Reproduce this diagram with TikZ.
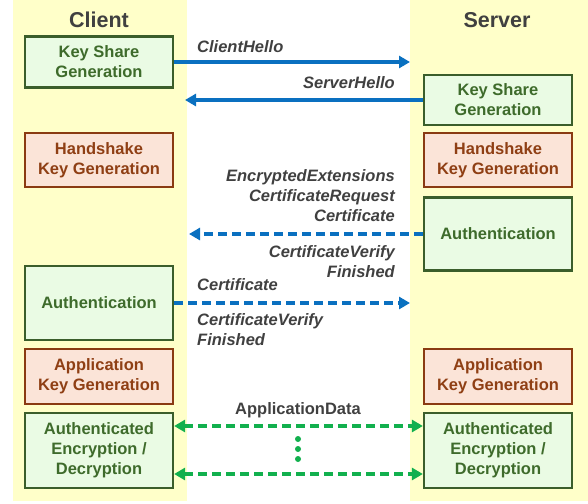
\documentclass[tikz,border=0pt]{standalone}
\usepackage{fontspec}
\setmainfont{Liberation Sans}
\usetikzlibrary{arrows.meta,positioning}

\definecolor{laneyellow}{HTML}{FFFFC9}
\definecolor{genfill}{HTML}{EAFBE4}
\definecolor{gendraw}{HTML}{3B5E2B}
\definecolor{gentext}{HTML}{3E6B2B}
\definecolor{keyfill}{HTML}{FBE4D8}
\definecolor{keydraw}{HTML}{8A3B12}
\definecolor{keytext}{HTML}{8F3F14}
\definecolor{msgblue}{HTML}{0A70C0}
\definecolor{appgreen}{HTML}{12B04E}
\definecolor{labelgray}{HTML}{404040}

\begin{document}
\begin{tikzpicture}[x=1pt, y=-1pt,
    lane/.style={fill=laneyellow, draw=none, inner sep=0pt},
    title/.style={font=\fontsize{21.5}{24}\selectfont\bfseries, text=labelgray},
    genbox/.style={draw=gendraw, fill=genfill, line width=2.2pt, minimum width=148pt, align=center,
        font=\fontsize{16.5}{20}\selectfont\bfseries, text=gentext},
    keybox/.style={draw=keydraw, fill=keyfill, line width=2.2pt, minimum width=148pt, align=center,
        font=\fontsize{16.5}{20}\selectfont\bfseries, text=keytext},
    lbl/.style={font=\fontsize{16.5}{20}\selectfont\bfseries\itshape, text=labelgray, inner sep=0pt},
    msg/.style={draw=msgblue, line width=3.4pt, -{Triangle[length=11pt, width=12pt]}},
    msgdash/.style={msg, dash pattern=on 9pt off 5pt},
    appmsg/.style={draw=appgreen, line width=3.4pt, dash pattern=on 9pt off 5pt,
        {Triangle[length=11pt, width=12pt]}-{Triangle[length=11pt, width=12pt]}}]

    \useasboundingbox (0,0) rectangle (588,503);

    % Spalten fuer Client und Server
    \path[lane] (13,0) rectangle (187,501);
    \path[lane] (410,0) rectangle (588,501);
    \coordinate (cEdge) at (187,0);
    \coordinate (sEdge) at (410,0);

    \node[title] (client) at (99,20) {Client};
    \node[title] (server) at (497,20) {Server};

    % Boxen auf der Client-Seite
    \node[genbox, minimum height=51pt] (cKey) at (99,62) {Key Share\\Generation};
    \node[keybox, minimum height=54pt] (cHs) at (99,160) {Handshake\\Key Generation};
    \node[genbox, minimum height=74pt] (cAuth) at (99,303) {Authentication};
    \node[keybox, minimum height=55pt] (cApp) at (99,376.5) {Application\\Key Generation};
    \node[genbox, minimum height=75pt] (cEnc) at (99,450.5) {Authenticated\\Encryption /\\Decryption};

    % Boxen auf der Server-Seite
    \node[genbox, minimum height=50pt] (sKey) at (498,100) {Key Share\\Generation};
    \node[keybox, minimum height=54pt] (sHs) at (498,160) {Handshake\\Key Generation};
    \node[genbox, minimum height=73pt] (sAuth) at (498,234) {Authentication};
    \node[keybox, minimum height=55pt] (sApp) at (498,376.5) {Application\\Key Generation};
    \node[genbox, minimum height=75pt] (sEnc) at (498,450.5) {Authenticated\\Encryption /\\Decryption};

    % Nachrichten
    \draw[msg] (cKey.east) -- (cKey.east -| sEdge);
    \draw[msg] (sKey.west) -- ([xshift=-2pt]sKey.west -| cEdge);
    \draw[msgdash] (sAuth.west) -- ([xshift=2pt]sAuth.west -| cEdge);
    \draw[msgdash] (cAuth.east) -- (cAuth.east -| sEdge);
    \draw[appmsg] ([yshift=-23.5pt]cEnc.east) -- ([yshift=-23.5pt]sEnc.west);
    \draw[appmsg] ([yshift=24.5pt]cEnc.east) -- ([yshift=24.5pt]sEnc.west);

    % Beschriftungen
    \node[lbl, anchor=west] (chello) at (197,47) {ClientHello};
    \node[lbl, anchor=east] (shello) at (395,83) {ServerHello};
    \node[lbl, anchor=east, align=right] (sAuthUp) at (395,196) {EncryptedExtensions\\CertificateRequest\\Certificate};
    \node[lbl, anchor=east, align=right] (sAuthDown) at (395,262) {CertificateVerify\\Finished};
    \node[lbl, anchor=west] (cAuthUp) at (197,285) {Certificate};
    \node[lbl, anchor=west, align=left] (cAuthDown) at (197,330) {CertificateVerify\\Finished};
    \node[lbl, font=\fontsize{16.5}{20}\selectfont\bfseries] (appData) at (298,410) {ApplicationData};

    \foreach \y in {439,449,459}
        \fill[appgreen] (298,\y) circle (3pt);

\end{tikzpicture}
\end{document}
